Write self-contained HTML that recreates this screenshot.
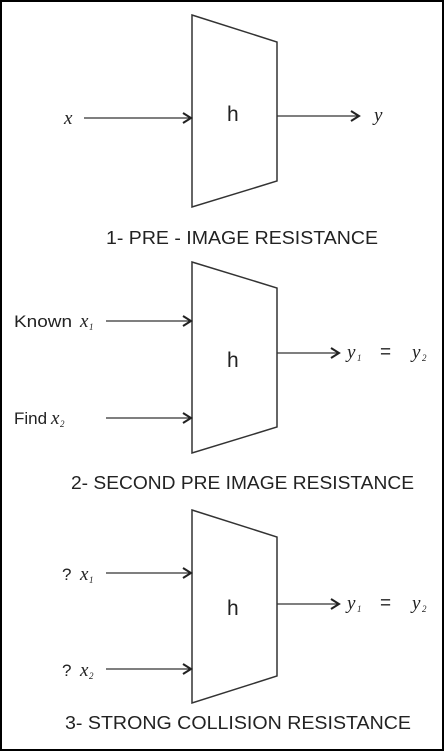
<!DOCTYPE html>
<html><head><style>
html,body{margin:0;padding:0;background:#fff}
svg{display:block}
.t{font-family:"Liberation Sans",sans-serif;fill:#222}
.m{font-family:"Liberation Serif",serif;font-style:italic;fill:#222}
</style></head><body>
<svg width="444" height="751" viewBox="0 0 444 751">
<defs><marker id="a" markerWidth="12" markerHeight="12" refX="10" refY="6" orient="auto" markerUnits="userSpaceOnUse"><path d="M2,1 L10,6 L2,11" fill="none" stroke="#222" stroke-width="2"/></marker></defs>
<rect x="1" y="1" width="442" height="749" fill="#fff" stroke="#000" stroke-width="2"/>
<g stroke="#333" stroke-width="1.5" fill="none">
<polygon points="192,15 277,42 277,181 192,207"/>
<polygon points="192,262 277,288 277,427 192,453"/>
<polygon points="192,510 277,537 277,676 192,703"/>
</g>
<g stroke="#333" stroke-width="1.3" marker-end="url(#a)">
<line x1="84" y1="118" x2="191" y2="118"/>
<line x1="277" y1="116" x2="359" y2="116"/>
<line x1="106" y1="321" x2="191" y2="321"/>
<line x1="106" y1="418" x2="191" y2="418"/>
<line x1="277" y1="353" x2="339" y2="353"/>
<line x1="106" y1="573" x2="191" y2="573"/>
<line x1="106" y1="669" x2="191" y2="669"/>
<line x1="277" y1="604" x2="339" y2="604"/>
</g>
<text class="t" x="227" y="121" font-size="21">h</text>
<text class="t" x="227" y="367" font-size="21">h</text>
<text class="t" x="227" y="615" font-size="21">h</text>
<text class="m" x="64" y="124" font-size="19">x</text>
<text class="m" x="374" y="121" font-size="19">y</text>
<text class="t" x="106" y="244" font-size="18" textLength="272" lengthAdjust="spacingAndGlyphs">1-  PRE - IMAGE RESISTANCE</text>
<text class="t" x="14" y="327" font-size="17" textLength="58" lengthAdjust="spacingAndGlyphs">Known</text><text class="m" x="80" y="327" font-size="19">x</text><text class="m" x="89" y="330" font-size="9">1</text>
<text class="t" x="14" y="424" font-size="17">Find</text><text class="m" x="51" y="424" font-size="19">x</text><text class="m" x="60" y="427" font-size="9">2</text>
<text class="m" x="347" y="358" font-size="19">y</text><text class="m" x="357" y="361" font-size="9">1</text>
<text class="t" x="380" y="358" font-size="19">=</text>
<text class="m" x="412" y="358" font-size="19">y</text><text class="m" x="422" y="361" font-size="9">2</text>
<text class="t" x="71" y="489" font-size="18" textLength="343" lengthAdjust="spacingAndGlyphs">2-  SECOND PRE IMAGE RESISTANCE</text>
<text class="t" x="62" y="580" font-size="17">?</text><text class="m" x="80" y="580" font-size="19">x</text><text class="m" x="89" y="583" font-size="9">1</text>
<text class="t" x="62" y="676" font-size="17">?</text><text class="m" x="80" y="676" font-size="19">x</text><text class="m" x="89" y="679" font-size="9">2</text>
<text class="m" x="347" y="609" font-size="19">y</text><text class="m" x="357" y="612" font-size="9">1</text>
<text class="t" x="380" y="609" font-size="19">=</text>
<text class="m" x="412" y="609" font-size="19">y</text><text class="m" x="422" y="612" font-size="9">2</text>
<text class="t" x="65" y="729" font-size="18" textLength="346" lengthAdjust="spacingAndGlyphs">3-  STRONG COLLISION RESISTANCE</text>
</svg>
</body></html>
